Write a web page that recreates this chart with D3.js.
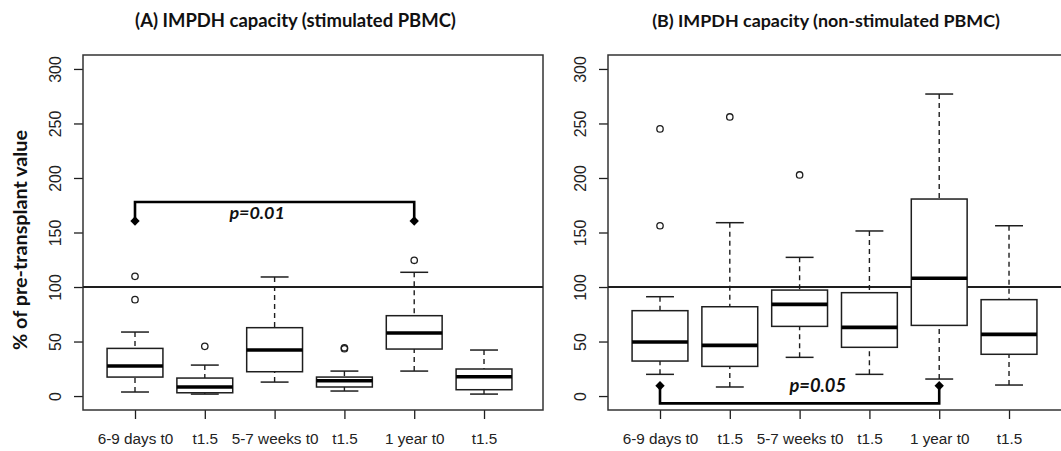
<!DOCTYPE html>
<html><head><meta charset="utf-8">
<script src="https://cdn.jsdelivr.net/npm/d3@7"></script>
<style>body{margin:0;background:#fff}svg{display:block}</style>
</head><body>
<svg id="c" width="1061" height="451"></svg>
<script>
const categories = ["6-9 days t0","t1.5","5-7 weeks t0","t1.5","1 year t0","t1.5"];
const yTicks = [0,50,100,150,200,250,300];
const refValue = 100;

// Panel A (stimulated PBMC)
const aLow  = [3.7, 1.8, 12.8, 4.6, 22.9, 1.8];
const aQ1   = [17.4, 3.0, 22.3, 8.3, 43.1, 5.8];
const aMed  = [27.5, 8.3, 42.2, 14.0, 57.8, 17.7];
const aQ3   = [43.7, 16.5, 62.7, 17.4, 73.7, 24.8];
const aHigh = [58.7, 28.4, 109.2, 22.9, 113.5, 42.2];
const aOut  = [[109.8, 88.4], [45.6], [], [44.3, 43.4], [124.5], []];

// Panel B (non-stimulated PBMC)
const bLow  = [19.9, 8.3, 35.5, 19.9, 15.6, 10.1];
const bQ1   = [32.1, 27.2, 63.9, 44.7, 64.8, 38.3];
const bMed  = [49.5, 46.5, 84.1, 63.0, 108.0, 56.6];
const bQ3   = [78.3, 81.9, 97.2, 94.8, 180.7, 88.4];
const bHigh = [91.1, 159.0, 127.2, 151.4, 277.0, 156.2];
const bOut  = [[245, 156.2], [256], [202.8], [], [], []];

const titles = ["(A) IMPDH capacity (stimulated PBMC)", "(B) IMPDH capacity (non-stimulated PBMC)"];
const yLabel = "% of pre-transplant value";
// significance brackets
const sigFrom = [1, 1], sigTo = [5, 5];
const sigBar = [178, -6.7], sigEnd = [160.5, 9.5];
const sigLabel = ["p=0.01", "p=0.05"];

const svg = d3.select("#c");
const ink = "#1e1e1e";

function fitText(sel, target) {
  const fs = parseFloat(sel.attr("font-size"));
  const len = sel.node().getComputedTextLength();
  sel.attr("font-size", (fs * target / len).toFixed(2));
}

const panels = [
  {x0: 83, x1: 543, low: aLow, q1: aQ1, med: aMed, q3: aQ3, high: aHigh, out: aOut,
   titleX: 295.5, titleW: 321, sigX: 2.75, sigY: 162, sigW: 55.6},
  {x0: 608, x1: 1068, low: bLow, q1: bQ1, med: bMed, q3: bQ3, high: bHigh, out: bOut,
   titleX: 826, titleW: 348, sigX: 3.26, sigY: 3.9, sigW: 56.7}
];

const y = d3.scaleLinear().domain([-12.8, 312.8]).range([410, 55]);

panels.forEach((p, pi) => {
  const x = d3.scaleLinear().domain([0.255, 6.845]).range([p.x0, p.x1]);
  const g = svg.append("g");
  const idx = d3.range(categories.length);

  const ya = g.append("g").attr("transform", `translate(${p.x0},0)`)
    .call(d3.axisLeft(y).tickValues(yTicks).tickSize(9).tickPadding(0).tickFormat(d3.format("d")));
  ya.select(".domain").remove();
  ya.selectAll(".tick line").attr("stroke", ink).attr("stroke-width", 1.3);
  ya.selectAll(".tick text").attr("transform", "rotate(-90)")
    .attr("x", 0).attr("y", -27.5).attr("dy", "0.35em").attr("text-anchor", "middle")
    .attr("font-family", "Liberation Sans, Arial, sans-serif").attr("font-size", 16).attr("fill", "#222");

  const xa = g.append("g").attr("transform", "translate(0,410)")
    .call(d3.axisBottom(x).tickValues(idx.map(i => i + 1)).tickSize(9).tickPadding(0)
      .tickFormat((d) => categories[d - 1]));
  xa.select(".domain").remove();
  xa.selectAll(".tick line").attr("stroke", ink).attr("stroke-width", 1.3);
  xa.selectAll(".tick text").attr("y", 34).attr("dy", 0)
    .attr("font-family", "Liberation Sans, Arial, sans-serif").attr("font-size", 15.3).attr("fill", "#222");

  g.append("rect").attr("x", p.x0).attr("y", 55).attr("width", p.x1 - p.x0).attr("height", 355)
    .attr("fill", "none").attr("stroke", "#333").attr("stroke-width", 1.5);

  g.append("line").attr("x1", p.x0).attr("x2", p.x1).attr("y1", y(refValue)).attr("y2", y(refValue))
    .attr("stroke", ink).attr("stroke-width", 2.2);

  const bw = 0.4, cw = 0.2;
  idx.forEach(i => {
    const c = x(i + 1);
    const bx = g.append("g");
    bx.append("line").attr("x1", c).attr("x2", c).attr("y1", y(p.high[i])).attr("y2", y(p.q3[i]))
      .attr("stroke", ink).attr("stroke-width", 1.4).attr("stroke-dasharray", "5,4");
    bx.append("line").attr("x1", c).attr("x2", c).attr("y1", y(p.low[i])).attr("y2", y(p.q1[i]))
      .attr("stroke", ink).attr("stroke-width", 1.4).attr("stroke-dasharray", "5,4");
    [p.high[i], p.low[i]].forEach(v => {
      bx.append("line").attr("x1", x(i + 1 - cw)).attr("x2", x(i + 1 + cw)).attr("y1", y(v)).attr("y2", y(v))
        .attr("stroke", ink).attr("stroke-width", 1.5);
    });
    bx.append("rect").attr("x", x(i + 1 - bw)).attr("width", x(i + 1 + bw) - x(i + 1 - bw))
      .attr("y", y(p.q3[i])).attr("height", y(p.q1[i]) - y(p.q3[i]))
      .attr("fill", "#fff").attr("stroke", ink).attr("stroke-width", 1.5);
    bx.append("line").attr("x1", x(i + 1 - bw)).attr("x2", x(i + 1 + bw)).attr("y1", y(p.med[i])).attr("y2", y(p.med[i]))
      .attr("stroke", "#000").attr("stroke-width", 3.6);
    p.out[i].forEach(v => {
      bx.append("circle").attr("cx", c).attr("cy", y(v)).attr("r", 3.2)
        .attr("fill", "none").attr("stroke", ink).attr("stroke-width", 1.3);
    });
  });

  const xa1 = x(sigFrom[pi]), xa2 = x(sigTo[pi]);
  g.append("path")
    .attr("d", `M${xa1},${y(sigEnd[pi])}V${y(sigBar[pi])}H${xa2}V${y(sigEnd[pi])}`)
    .attr("fill", "none").attr("stroke", "#000").attr("stroke-width", 2.6);
  [xa1, xa2].forEach(xx => {
    g.append("path").attr("d", d3.symbol().type(d3.symbolSquare).size(44)())
      .attr("transform", `translate(${xx},${y(sigEnd[pi])}) rotate(45)`).attr("fill", "#000");
  });
  const st = g.append("text").attr("x", x(p.sigX)).attr("y", y(p.sigY)).attr("text-anchor", "middle")
    .attr("font-family", "Lato, sans-serif").attr("font-weight", "bold").attr("font-style", "italic")
    .attr("font-size", 17).attr("fill", "#111").text(sigLabel[pi]);
  fitText(st, p.sigW);

  const t = svg.append("text").attr("x", p.titleX).attr("y", 26.5).attr("text-anchor", "middle")
    .attr("font-family", "Lato, sans-serif").attr("font-weight", "bold").attr("font-size", 18)
    .attr("fill", "#111").text(titles[pi]);
  fitText(t, p.titleW);
});

const yl = svg.append("text").attr("transform", "translate(20,240) rotate(-90)")
  .attr("text-anchor", "middle").attr("dy", "0.35em")
  .attr("font-family", "Lato, sans-serif").attr("font-weight", "bold").attr("font-size", 17)
  .attr("fill", "#111").text(yLabel);
fitText(yl, 220);
</script>
</body></html>
